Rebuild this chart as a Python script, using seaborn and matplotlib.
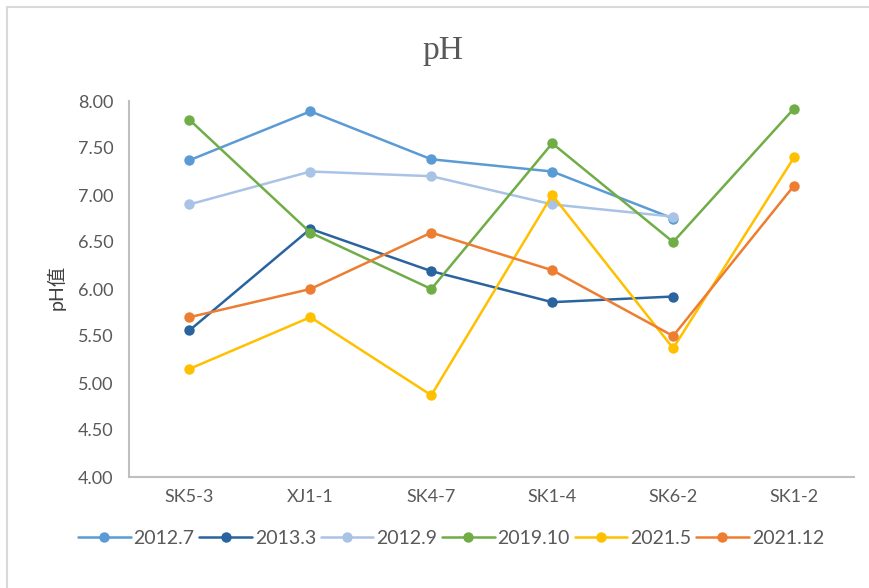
import numpy as np
import pandas as pd
import matplotlib
matplotlib.use("Agg")
import matplotlib.pyplot as plt
from matplotlib.patches import Rectangle
import seaborn as sns

# Sampling wells
wells = ["SK5-3", "XJ1-1", "SK4-7", "SK1-4", "SK6-2", "SK1-2"]

# pH readings per sampling campaign (NaN = not sampled)
ph_2012_7 = [7.37, 7.89, 7.38, 7.25, 6.75, np.nan]
ph_2013_3 = [5.56, 6.64, 6.19, 5.86, 5.92, np.nan]
ph_2012_9 = [6.90, 7.25, 7.20, 6.90, 6.77, np.nan]
ph_2019_10 = [7.80, 6.60, 6.00, 7.55, 6.50, 7.92]
ph_2021_5 = [5.15, 5.70, 4.87, 7.00, 5.37, 7.40]
ph_2021_12 = [5.70, 6.00, 6.60, 6.20, 5.50, 7.10]

campaigns = ["2012.7", "2013.3", "2012.9", "2019.10", "2021.5", "2021.12"]
colors = ["#5B9BD5", "#2A649E", "#A9C3E6", "#70AD47", "#FFC000", "#ED7D31"]
y_ticks = [4.00, 4.50, 5.00, 5.50, 6.00, 6.50, 7.00, 7.50, 8.00]

series = [ph_2012_7, ph_2013_3, ph_2012_9, ph_2019_10, ph_2021_5, ph_2021_12]
rows = []
for name, vals in zip(campaigns, series):
    for w, v in zip(wells, vals):
        rows.append({"well": w, "pH": v, "campaign": name})
df = pd.DataFrame(rows).dropna()

sns.set_theme(style="white")
plt.rcParams["font.family"] = ["Lato", "Noto Sans CJK SC", "DejaVu Sans"]

fig = plt.figure(figsize=(8.7, 5.88), dpi=100)
ax = fig.add_axes([129 / 870, 1 - 477 / 588, (854.5 - 129) / 870, (477 - 101) / 588])

# light frame around the chart area
fig.patches.append(Rectangle((7 / 870, -0.05), 1.2, 1 - 7 / 588 + 0.05,
                             transform=fig.transFigure, fill=False,
                             edgecolor="#D9D9D9", linewidth=1.5, zorder=0))

sns.lineplot(data=df, x="well", y="pH", hue="campaign", hue_order=campaigns,
             palette=colors, marker="o", markersize=7.5, markeredgewidth=0,
             linewidth=1.8, sort=False, ax=ax, legend=True)

ax.set_xlim(-0.5, len(wells) - 0.5)
ax.set_ylim(4.0, 8.0)
ax.set_yticks(y_ticks)
ax.set_yticklabels([f"{t:.2f}" for t in y_ticks])
ax.set_xticks(range(len(wells)))
ax.set_xticklabels(wells)
ax.tick_params(axis="both", length=0, labelsize=13, colors="#595959")
ax.tick_params(axis="y", pad=11)
ax.tick_params(axis="x", pad=9)
ax.set_xlabel("")
ax.set_ylabel("pH值", fontsize=14, color="#404040")
ax.yaxis.set_label_coords((66 - 129) / 725.5, 0.505)
ax.grid(False)

for side in ["top", "right"]:
    ax.spines[side].set_visible(False)
for side in ["left", "bottom"]:
    ax.spines[side].set_color("#BFBFBF")
    ax.spines[side].set_linewidth(1.5)

fig.text(443 / 870, 1 - 59 / 588, "pH", ha="center", va="baseline",
         fontsize=24, color="#595959", family=["Liberation Serif"])

handles, labels = ax.get_legend_handles_labels()
ax.legend_.remove()
fig.legend(handles, labels, loc="center", ncol=6,
           bbox_to_anchor=(451 / 870, 1 - 538 / 588), frameon=False,
           fontsize=14, handlelength=2.7, handletextpad=0.15,
           columnspacing=0.25, labelcolor="#595959")

fig.savefig("out.png", dpi=100)
